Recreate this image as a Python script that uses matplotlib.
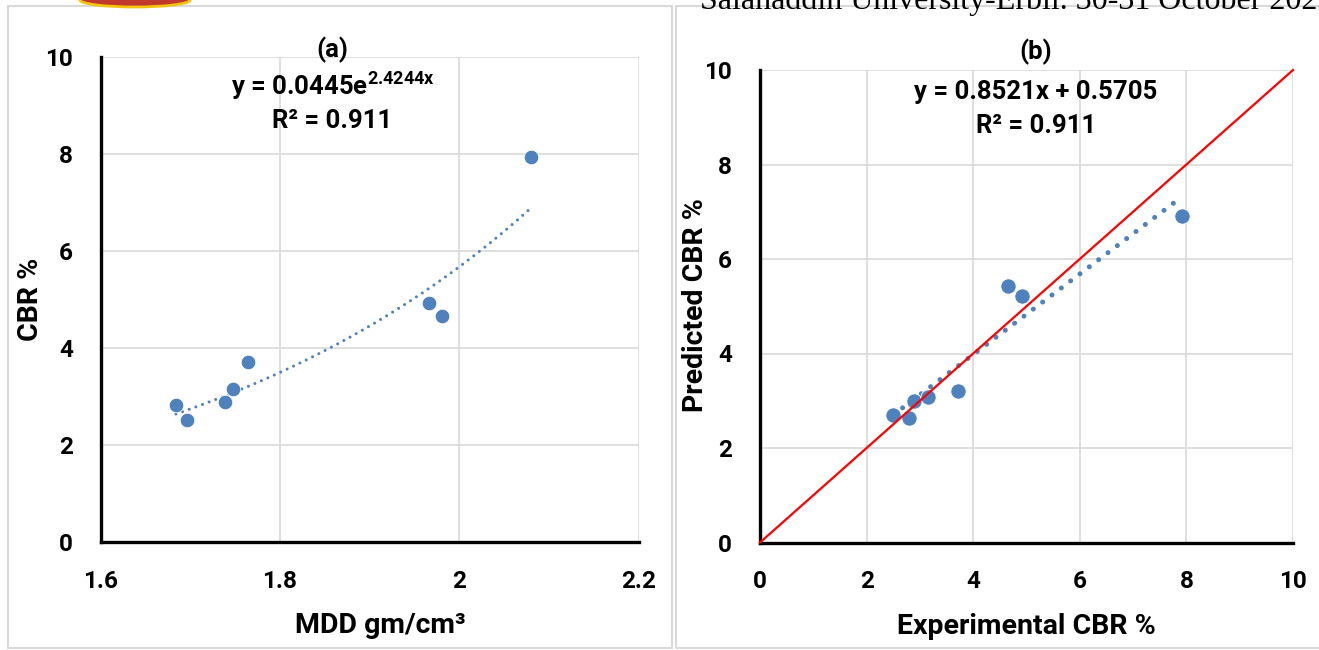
import numpy as np
import matplotlib
matplotlib.use('Agg')
import matplotlib.pyplot as plt
from matplotlib.patches import Rectangle, Ellipse

plt.rcParams['font.family'] = ['Roboto', 'DejaVu Sans']
plt.rcParams['font.weight'] = 'bold'
plt.rcParams['axes.labelweight'] = 'bold'
plt.rcParams['mathtext.fontset'] = 'custom'
plt.rcParams['mathtext.rm'] = 'Roboto:bold'
plt.rcParams['mathtext.it'] = 'Roboto:bold'

# data
mdd = [1.684, 1.696, 1.739, 1.748, 1.764, 1.966, 1.980, 2.080]
cbr_exp = [2.82, 2.51, 2.89, 3.16, 3.72, 4.92, 4.66, 7.93]
exp_b = [2.80, 2.50, 2.89, 3.15, 3.71, 4.92, 4.66, 7.92]
pred_b = [2.63, 2.70, 3.00, 3.08, 3.20, 5.22, 5.42, 6.90]

exp_a, exp_k = 0.0445, 2.4244
lin_m, lin_c = 0.8521, 0.5705

xt_a = [1.6, 1.8, 2.0, 2.2]
xt_a_lbl = ['1.6', '1.8', '2', '2.2']
yt = [0, 2, 4, 6, 8, 10]
xt_b = [0, 2, 4, 6, 8, 10]

blue = '#4f81bd'
grid_c = '#d9d9d9'

fig = plt.figure(figsize=(13.19, 6.5), dpi=100)

# panel frames
fig.patches.append(Rectangle((8/1319, 2/650), 664/1319, 642/650, transform=fig.transFigure,
                             fill=False, edgecolor=grid_c, lw=1.5))
fig.patches.append(Rectangle((676/1319, 2/650), 660/1319, 642/650, transform=fig.transFigure,
                             fill=False, edgecolor=grid_c, lw=1.5))
# header remains (cropped)
fig.patches.append(Ellipse((135/1319, 1 - 0/650), 110/1319, 14/650, transform=fig.transFigure,
                           facecolor='#c0392b', edgecolor='#f1c40f', lw=2))
fig.text(700/1319, 1 - 9/650, 'Salahaddin University-Erbil. 30-31 October 2023',
         family='Liberation Serif', weight='normal', fontsize=23, va='baseline', ha='left')


def style(ax):
    for s in ['top', 'right']:
        ax.spines[s].set_visible(False)
    for s in ['left', 'bottom']:
        ax.spines[s].set_linewidth(2.4)
        ax.spines[s].set_color('black')
    ax.grid(True, color=grid_c, lw=1.2)
    ax.set_axisbelow(True)
    ax.tick_params(length=0, pad=20, labelsize=17.5)


# (a)
ax1 = fig.add_axes([100.5/1319, 1 - 542/650, 538.5/1319, 485/650])
style(ax1)
ax1.set_xlim(1.6, 2.2)
ax1.set_ylim(0, 10)
ax1.set_xticks(xt_a)
ax1.set_xticklabels(xt_a_lbl)
ax1.set_yticks(yt)
xf = np.linspace(min(mdd), max(mdd), 200)
ax1.plot(xf, exp_a*np.exp(exp_k*xf), color=blue, lw=2.2,
         linestyle=(0, (0.01, 2.3)), dash_capstyle='round', zorder=2)
ax1.plot(mdd, cbr_exp, 'o', color=blue, ms=10.5, mec='white', mew=0.6, zorder=3)
ax1.set_xlabel('MDD gm/cm³', fontsize=20.5)
ax1.xaxis.set_label_coords(0.52, -0.145)
ax1.set_ylabel('CBR %', fontsize=20.5)
ax1.yaxis.set_label_coords(-0.105, 0.5)
ax1.text(0.431, 1.015, '(a)', transform=ax1.transAxes, ha='center', va='center', fontsize=18.5)
ax1.text(0.431, 0.94, 'y = 0.0445e$^{2.4244x}$', transform=ax1.transAxes,
         ha='center', va='center', fontsize=18.5)
ax1.text(0.431, 0.868, 'R² = 0.911', transform=ax1.transAxes, ha='center', va='center', fontsize=18.5)

# (b)
ax2 = fig.add_axes([760/1319, 1 - 542.5/650, 533/1319, 472.5/650])
style(ax2)
ax2.set_xlim(0, 10)
ax2.set_ylim(0, 10)
ax2.set_xticks(xt_b)
ax2.set_yticks(yt)
xl = np.linspace(min(exp_b), max(exp_b), 200)
ax2.plot(xl, lin_m*xl + lin_c, color=blue, lw=3.6,
         linestyle=(0, (0.01, 2.33)), dash_capstyle='round', zorder=2)
ax2.plot(exp_b, pred_b, 'o', color=blue, ms=11, mec='white', mew=0.6, zorder=3)
ax2.plot([0, 10], [0, 10], color='red', lw=1.6, zorder=4, clip_on=False)
ax2.set_xlabel('Experimental CBR %', fontsize=20.5)
ax2.xaxis.set_label_coords(0.5, -0.15)
ax2.set_ylabel('Predicted CBR %', fontsize=20.5)
ax2.yaxis.set_label_coords(-0.095, 0.503)
ax2.text(0.518, 1.038, '(b)', transform=ax2.transAxes, ha='center', va='center', fontsize=18.5)
ax2.text(0.518, 0.953, 'y = 0.8521x + 0.5705', transform=ax2.transAxes,
         ha='center', va='center', fontsize=18.5)
ax2.text(0.518, 0.881, 'R² = 0.911', transform=ax2.transAxes, ha='center', va='center', fontsize=18.5)

fig.savefig('out.png', dpi=100)
